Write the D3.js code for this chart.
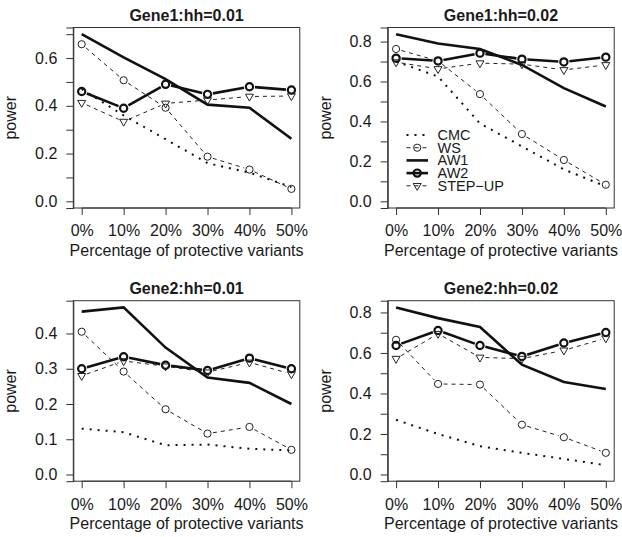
<!DOCTYPE html>
<html>
<head>
<meta charset="utf-8">
<script src="https://cdn.jsdelivr.net/npm/d3@7/dist/d3.min.js"></script>
<style>
  body { margin: 0; background: #fff; }
  text { font-family: "Liberation Sans", Arial, sans-serif; fill: #1a1a1a; }
</style>
</head>
<body>
<div id="chart"></div>
<script>
// x categories
const pct = ["0%", "10%", "20%", "30%", "40%", "50%"];
const titles = ["Gene1:hh=0.01", "Gene1:hh=0.02", "Gene2:hh=0.01", "Gene2:hh=0.02"];
const methods = ["CMC", "WS", "AW1", "AW2", "STEP-UP"];

// one row per panel (Gene1 0.01, Gene1 0.02, Gene2 0.01, Gene2 0.02)
const CMC = [
    [0.47, 0.36, 0.26, 0.16, 0.12, 0.06],
    [0.70, 0.625, 0.39, 0.275, 0.16, 0.075],
    [0.13, 0.12, 0.083, 0.085, 0.073, 0.068],
    [0.27, 0.20, 0.14, 0.107, 0.077, 0.046]
];
const WS = [
    [0.658, 0.507, 0.392, 0.187, 0.133, 0.052],
    [0.763, 0.703, 0.537, 0.337, 0.207, 0.083],
    [0.405, 0.292, 0.185, 0.116, 0.135, 0.07],
    [0.665, 0.447, 0.444, 0.246, 0.184, 0.107]
];
const AW1 = [
    [0.70, 0.603, 0.512, 0.405, 0.392, 0.262],
    [0.837, 0.79, 0.763, 0.683, 0.567, 0.475],
    [0.462, 0.474, 0.36, 0.275, 0.26, 0.20],
    [0.825, 0.772, 0.728, 0.542, 0.457, 0.422]
];
const AW2 = [
    [0.46, 0.39, 0.49, 0.448, 0.48, 0.466],
    [0.717, 0.703, 0.742, 0.712, 0.698, 0.722],
    [0.30, 0.334, 0.31, 0.295, 0.33, 0.30],
    [0.637, 0.711, 0.637, 0.583, 0.649, 0.701]
];
const STEPUP = [
    [0.413, 0.334, 0.41, 0.424, 0.439, 0.441],
    [0.697, 0.663, 0.692, 0.687, 0.658, 0.683],
    [0.28, 0.322, 0.307, 0.29, 0.318, 0.285],
    [0.572, 0.695, 0.578, 0.572, 0.613, 0.673]
];
// y tick values and which of them carry a label
const yTicks = [
    [0, 0.1, 0.2, 0.3, 0.4, 0.5, 0.6, 0.7],
    [0, 0.1, 0.2, 0.3, 0.4, 0.5, 0.6, 0.7, 0.8],
    [0, 0.1, 0.2, 0.3, 0.4],
    [0, 0.1, 0.2, 0.3, 0.4, 0.5, 0.6, 0.7, 0.8]
];
const yLabelStep = [0.2, 0.2, 0.1, 0.2];

const width = 622, height = 537;
const svg = d3.select("#chart").append("svg")
    .attr("width", width)
    .attr("height", height);

const fontSize = 16;
const gap = 5.5;

// how each series is drawn
const styles = {
    "CMC":     { data: CMC,    stroke: "#111", sw: 2,   dash: "2,6", marker: null },
    "WS":      { data: WS,     stroke: "#222", sw: 1,   dash: "4,4", marker: "circle" },
    "AW1":     { data: AW1,    stroke: "#111", sw: 2.6, dash: null,  marker: null },
    "AW2":     { data: AW2,    stroke: "#111", sw: 2.6, dash: null,  marker: "bold" },
    "STEP-UP": { data: STEPUP, stroke: "#222", sw: 1,   dash: "4,4", marker: "tri" }
};

function drawMarker(g, kind, cx, cy) {
    if (kind === "circle") {
        g.append("circle").attr("cx", cx).attr("cy", cy).attr("r", 3.6)
            .attr("fill", "none").attr("stroke", "#222").attr("stroke-width", 1);
    } else if (kind === "bold") {
        g.append("circle").attr("cx", cx).attr("cy", cy).attr("r", 3.6)
            .attr("fill", "none").attr("stroke", "#111").attr("stroke-width", 2.2);
    } else if (kind === "tri") {
        const r = 4.6;
        g.append("path")
            .attr("d", `M${cx - r * 0.866},${cy - r / 2}L${cx + r * 0.866},${cy - r / 2}L${cx},${cy + r}Z`)
            .attr("fill", "none").attr("stroke", "#222").attr("stroke-width", 1);
    }
}

function drawPanel(i) {
    const col = i % 2, row = Math.floor(i / 2);
    const left = 73.3 + col * 314.4, right = left + 226.5;
    const top = 27.5 + row * 273.2, bottom = top + 180.5;

    const x = d3.scaleLinear().domain([-0.2, 5.2]).range([left, right]);
    const ymax = d3.max(methods, m => d3.max(styles[m].data[i]));
    const ext = ymax * 0.04;
    const y = d3.scaleLinear().domain([-ext, ymax + ext]).range([bottom, top]);

    const g = svg.append("g");

    // box
    g.append("rect")
        .attr("x", left).attr("y", top)
        .attr("width", right - left).attr("height", bottom - top)
        .attr("fill", "none").attr("stroke", "#333").attr("stroke-width", 1);

    // x axis
    const xAxis = d3.axisBottom(x)
        .tickValues(d3.range(pct.length))
        .tickFormat(d => pct[d])
        .tickSizeOuter(0)
        .tickSize(7)
        .tickPadding(10);
    const gx = g.append("g").attr("transform", `translate(0,${bottom})`).call(xAxis);
    gx.select(".domain").attr("d", `M${x(0)},0H${x(5)}`).attr("stroke", "#333");
    gx.selectAll(".tick line").attr("stroke", "#333");
    gx.selectAll(".tick text")
        .attr("font-size", fontSize).attr("font-family", null).attr("fill", "#1a1a1a");

    // y axis
    const step = yLabelStep[i];
    const yAxis = d3.axisLeft(y)
        .tickValues(yTicks[i])
        .tickFormat(d => Math.abs(d / step - Math.round(d / step)) < 1e-6 ? d3.format(".1f")(d) : "")
        .tickSizeOuter(0)
        .tickSize(7)
        .tickPadding(9);
    const gy = g.append("g").attr("transform", `translate(${left},0)`).call(yAxis);
    gy.select(".domain").attr("stroke", "#333");
    gy.selectAll(".tick line").attr("stroke", "#333");
    gy.selectAll(".tick text")
        .attr("font-size", fontSize).attr("font-family", null).attr("fill", "#1a1a1a");

    // title
    g.append("text")
        .attr("x", (left + right) / 2).attr("y", top - 7)
        .attr("text-anchor", "middle")
        .attr("font-size", fontSize).attr("font-weight", "bold")
        .text(titles[i]);

    // axis titles
    g.append("text")
        .attr("x", (left + right) / 2).attr("y", bottom + 48)
        .attr("text-anchor", "middle")
        .attr("font-size", fontSize)
        .text("Percentage of protective variants");
    g.append("text")
        .attr("transform", `translate(${left - 57},${(top + bottom) / 2}) rotate(-90)`)
        .attr("text-anchor", "middle")
        .attr("font-size", fontSize)
        .text("power");

    // series
    methods.forEach(m => {
        const s = styles[m];
        const pts = s.data[i].map((v, k) => [x(k), y(v)]);
        const sg = g.append("g");
        if (s.marker) {
            // type = "b": segments leave a gap round each point
            for (let k = 0; k < pts.length - 1; k++) {
                const [x1, y1] = pts[k], [x2, y2] = pts[k + 1];
                const len = Math.hypot(x2 - x1, y2 - y1);
                if (len <= 2 * gap) continue;
                const ux = (x2 - x1) / len, uy = (y2 - y1) / len;
                sg.append("line")
                    .attr("x1", x1 + ux * gap).attr("y1", y1 + uy * gap)
                    .attr("x2", x2 - ux * gap).attr("y2", y2 - uy * gap)
                    .attr("stroke", s.stroke).attr("stroke-width", s.sw)
                    .attr("stroke-dasharray", s.dash);
            }
            pts.forEach(p => drawMarker(sg, s.marker, p[0], p[1]));
        } else {
            sg.append("path")
                .attr("d", d3.line()(pts))
                .attr("fill", "none")
                .attr("stroke", s.stroke).attr("stroke-width", s.sw)
                .attr("stroke-dasharray", s.dash);
        }
    });

    // legend only in the second panel, rows packed as tightly as in the original
    if (i === 1) {
        const lg = g.append("g");
        methods.forEach((m, k) => {
            const s = styles[m];
            const ly = 135 + k * 12.7;
            lg.append("line")
                .attr("x1", 406.5).attr("x2", 428)
                .attr("y1", ly).attr("y2", ly)
                .attr("stroke", s.stroke).attr("stroke-width", s.sw)
                .attr("stroke-dasharray", s.dash);
            if (s.marker) drawMarker(lg, s.marker, 417.2, ly);
            lg.append("text")
                .attr("x", 437.5).attr("y", ly + 5)
                .attr("font-size", 14.5)
                .text(m === "STEP-UP" ? "STEP\u2212UP" : m);
        });
    }
}

for (let i = 0; i < 4; i++) drawPanel(i);
</script>
</body>
</html>
